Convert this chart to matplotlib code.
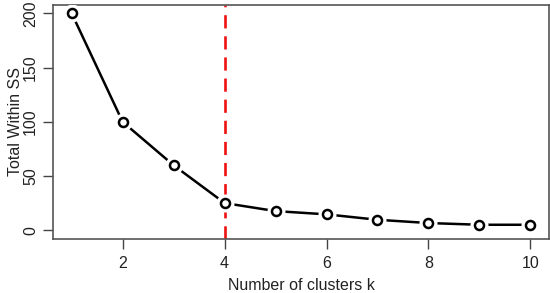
import matplotlib
matplotlib.use("Agg")
import matplotlib.pyplot as plt

k = [1, 2, 3, 4, 5, 6, 7, 8, 9, 10]
wss = [200, 100, 60, 25.2, 17.8, 14.8, 9.8, 6.8, 5.2, 5.2]
best_k = 4

plt.rcParams["font.family"] = ["Liberation Sans", "DejaVu Sans"]

fig = plt.figure(figsize=(5.5, 2.93), dpi=100)
ax = fig.add_axes([0.097, 0.184, 0.9007, 0.800])

# type="b" look: line, white gap round each point, then open circle
ax.plot(k, wss, color="black", lw=1.8, zorder=2)
ax.plot(k, wss, "o", ms=13, mfc="white", mec="none", zorder=3)
ax.plot(k, wss, "o", ms=6.5, mfc="white", mec="black", mew=1.8, zorder=4)

ax.axvline(best_k, color="#ee1111", lw=1.9, ls=(0, (5, 3)), zorder=1)

ax.set_xlim(0.64, 10.36)
ax.set_ylim(-8, 208)
ax.set_xticks([2, 4, 6, 8, 10])
ax.set_yticks([0, 50, 100, 150, 200])
ax.set_yticklabels(["0", "50", "100", "150", "200"], rotation=90, va="center")

ax.tick_params(direction="out", length=7, width=1, colors="#444444",
               labelcolor="#222222", labelsize=11.5)
ax.tick_params(axis="x", pad=5)
ax.tick_params(axis="y", pad=4)
for s in ax.spines.values():
    s.set_color("#555555")
    s.set_linewidth(1.2)

ax.set_xlabel("Number of clusters k", fontsize=11.5, color="#222222", labelpad=5)
ax.set_ylabel("Total Within SS", fontsize=11.5, color="#222222", labelpad=0)

fig.savefig("out.png", dpi=100)
